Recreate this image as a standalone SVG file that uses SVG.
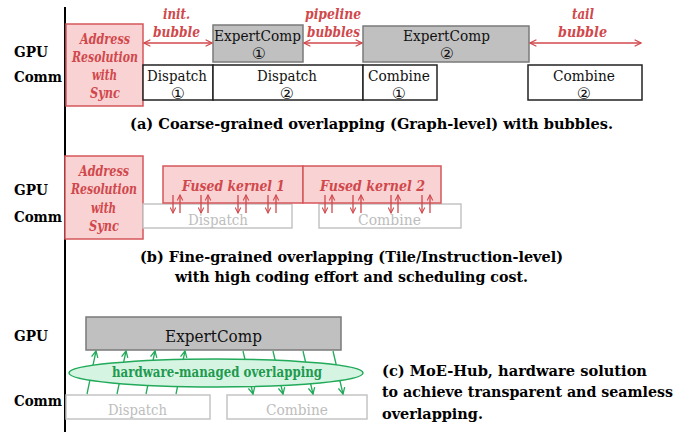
<svg xmlns="http://www.w3.org/2000/svg" width="695" height="432" viewBox="0 0 695 432" font-family="DejaVu Serif, serif">
<defs>
<style>
text{lengthAdjust:spacingAndGlyphs;}
.lbl{font-size:15px;font-weight:bold;fill:#000;}
.cap{font-size:15px;font-weight:bold;fill:#000;}
.red{font-size:14px;font-weight:bold;font-style:italic;fill:#d0484c;}
.fk{font-size:15px;font-weight:bold;font-style:italic;fill:#d0484c;}
.addr{fill:#f9d2d3;stroke:#d5575b;stroke-width:1.5;}
.comp{fill:#c0c0c0;stroke:#7a7a7a;stroke-width:1.5;}
.wbox{fill:#fff;stroke:#222;stroke-width:1.5;}
.gbox{fill:#fff;stroke:#c4c4c4;stroke-width:1.5;}
.t17{font-size:15.5px;fill:#111;}
.gt{font-size:15.5px;fill:#bdbdbd;}
.circ{font-family:"DejaVu Sans",sans-serif;font-size:16px;fill:#111;}
.rarr{stroke:#d0484c;stroke-width:1.3;fill:none;}
.garr{stroke:#22aa5a;stroke-width:1.3;fill:none;}
</style>
<marker id="ra" viewBox="0 0 10 10" refX="9" refY="5" markerWidth="8" markerHeight="8" markerUnits="userSpaceOnUse" orient="auto-start-reverse">
<path d="M1,1 L9,5 L1,9" fill="none" stroke="#d0484c" stroke-width="1.5"/>
</marker>
<marker id="rs" viewBox="0 0 10 10" refX="9" refY="5" markerWidth="7" markerHeight="7" markerUnits="userSpaceOnUse" orient="auto">
<path d="M1,1 L9,5 L1,9" fill="none" stroke="#d0484c" stroke-width="1.5"/>
</marker>
<marker id="ga" viewBox="0 0 10 10" refX="9" refY="5" markerWidth="8" markerHeight="8" markerUnits="userSpaceOnUse" orient="auto">
<path d="M1,1 L9,5 L1,9" fill="none" stroke="#22aa5a" stroke-width="1.6"/>
</marker>
</defs>
<rect width="695" height="432" fill="#fff"/>

<!-- time axis -->
<line x1="65" y1="7" x2="65" y2="432" stroke="#000" stroke-width="2"/>

<!-- row labels -->
<g id="labels">
<text class="lbl" x="14" y="57" textLength="34" lengthAdjust="spacingAndGlyphs">GPU</text>
<text class="lbl" x="14" y="82" textLength="48" lengthAdjust="spacingAndGlyphs">Comm</text>
<text class="lbl" x="14" y="195" textLength="34" lengthAdjust="spacingAndGlyphs">GPU</text>
<text class="lbl" x="14" y="222" textLength="48" lengthAdjust="spacingAndGlyphs">Comm</text>
<text class="lbl" x="14" y="341" textLength="34" lengthAdjust="spacingAndGlyphs">GPU</text>
<text class="lbl" x="14" y="406" textLength="48" lengthAdjust="spacingAndGlyphs">Comm</text>
</g>

<!-- (a) -->
<g id="a-addr">
<rect class="addr" x="66" y="24" width="77" height="82"/>
<text class="red" x="80" y="44" textLength="50" lengthAdjust="spacingAndGlyphs">Address</text>
<text class="red" x="72" y="62" textLength="66" lengthAdjust="spacingAndGlyphs">Resolution</text>
<text class="red" x="92" y="80" textLength="25" lengthAdjust="spacingAndGlyphs">with</text>
<text class="red" x="90" y="98" textLength="30" lengthAdjust="spacingAndGlyphs">Sync</text>
</g>
<g id="a-comp1">
<rect class="comp" x="213" y="25" width="90" height="37"/>
<text class="t17" x="214" y="41" textLength="87" lengthAdjust="spacingAndGlyphs">ExpertComp</text>
<text class="circ" text-anchor="middle" x="259" y="59">①</text>
</g>
<g id="a-comp2">
<rect class="comp" x="363" y="26" width="166" height="36"/>
<text class="t17" x="403" y="41" textLength="87" lengthAdjust="spacingAndGlyphs">ExpertComp</text>
<text class="circ" text-anchor="middle" x="447" y="59">②</text>
</g>
<g id="a-disp1">
<rect class="wbox" x="143" y="65" width="70" height="35"/>
<text class="t17" x="147" y="81" textLength="60" lengthAdjust="spacingAndGlyphs">Dispatch</text>
<text class="circ" text-anchor="middle" x="178" y="99">①</text>
</g>
<g id="a-disp2">
<rect class="wbox" x="213" y="65" width="150" height="35"/>
<text class="t17" x="257" y="81" textLength="60" lengthAdjust="spacingAndGlyphs">Dispatch</text>
<text class="circ" text-anchor="middle" x="287" y="99">②</text>
</g>
<g id="a-comb1">
<rect class="wbox" x="363" y="65" width="74" height="35"/>
<text class="t17" x="368" y="81" textLength="62" lengthAdjust="spacingAndGlyphs">Combine</text>
<text class="circ" text-anchor="middle" x="399" y="99">①</text>
</g>
<g id="a-comb2">
<rect class="wbox" x="528" y="65" width="114" height="35"/>
<text class="t17" x="553" y="81" textLength="62" lengthAdjust="spacingAndGlyphs">Combine</text>
<text class="circ" text-anchor="middle" x="584" y="99">②</text>
</g>
<g id="a-bubble-labels">
<text class="red" x="163" y="19" textLength="27" lengthAdjust="spacingAndGlyphs">init.</text>
<text class="red" x="153" y="37" textLength="47" lengthAdjust="spacingAndGlyphs">bubble</text>
<text class="red" x="305" y="19" textLength="56" lengthAdjust="spacingAndGlyphs">pipeline</text>
<text class="red" x="307" y="37" textLength="53" lengthAdjust="spacingAndGlyphs">bubbles</text>
<text class="red" x="572" y="19" textLength="22" lengthAdjust="spacingAndGlyphs">tail</text>
<text class="red" x="558" y="37" textLength="49" lengthAdjust="spacingAndGlyphs">bubble</text>
</g>
<text class="cap" x="130" y="129" textLength="483" lengthAdjust="spacingAndGlyphs">(a) Coarse-grained overlapping (Graph-level) with bubbles.</text>

<!-- (b) -->
<g id="b-addr">
<rect class="addr" x="65" y="156" width="78" height="83"/>
<text class="red" x="79" y="176" textLength="50" lengthAdjust="spacingAndGlyphs">Address</text>
<text class="red" x="71" y="194" textLength="66" lengthAdjust="spacingAndGlyphs">Resolution</text>
<text class="red" x="91" y="213" textLength="25" lengthAdjust="spacingAndGlyphs">with</text>
<text class="red" x="89" y="231" textLength="30" lengthAdjust="spacingAndGlyphs">Sync</text>
</g>
<g id="b-disp">
<rect class="gbox" x="143" y="204" width="149" height="24"/>
<text class="gt" x="188" y="225" textLength="60" lengthAdjust="spacingAndGlyphs">Dispatch</text>
</g>
<g id="b-comb">
<rect class="gbox" x="319" y="204" width="142" height="24"/>
<text class="gt" x="358" y="225" textLength="63" lengthAdjust="spacingAndGlyphs">Combine</text>
</g>
<g id="b-fk1">
<rect class="addr" x="163" y="166" width="140" height="37"/>
<text class="fk" x="182" y="191" textLength="103" lengthAdjust="spacingAndGlyphs">Fused kernel 1</text>
</g>
<g id="b-fk2">
<rect class="addr" x="303" y="166" width="138" height="37"/>
<text class="fk" x="320" y="191" textLength="105" lengthAdjust="spacingAndGlyphs">Fused kernel 2</text>
</g>
<text class="cap" x="140" y="262" textLength="423" lengthAdjust="spacingAndGlyphs">(b) Fine-grained overlapping (Tile/Instruction-level)</text>
<text class="cap" x="175" y="282" textLength="353" lengthAdjust="spacingAndGlyphs">with high coding effort and scheduling cost.</text>

<!-- (c) -->
<g id="c-comp">
<rect class="comp" x="86" y="317" width="255" height="33"/>
<text font-size="17.5" fill="#111" x="165" y="342" textLength="97" lengthAdjust="spacingAndGlyphs">ExpertComp</text>
</g>
<g id="c-disp">
<rect class="gbox" x="66" y="395" width="144" height="24"/>
<text class="gt" x="108" y="415" textLength="59" lengthAdjust="spacingAndGlyphs">Dispatch</text>
</g>
<g id="c-comb">
<rect class="gbox" x="227" y="395" width="140" height="24"/>
<text class="gt" x="266" y="415" textLength="62" lengthAdjust="spacingAndGlyphs">Combine</text>
</g>
<text class="cap" x="382" y="376" textLength="265" lengthAdjust="spacingAndGlyphs">(c) MoE-Hub, hardware solution</text>
<text class="cap" x="382" y="397" textLength="291" lengthAdjust="spacingAndGlyphs">to achieve transparent and seamless</text>
<text class="cap" x="382" y="419" textLength="101" lengthAdjust="spacingAndGlyphs">overlapping.</text>

<!-- connectors -->
<g id="connectors">
<line class="rarr" x1="144" y1="43" x2="212" y2="43" marker-start="url(#ra)" marker-end="url(#ra)"/>
<line class="rarr" x1="304" y1="43" x2="362" y2="43" marker-start="url(#ra)" marker-end="url(#ra)"/>
<line class="rarr" x1="530" y1="43" x2="641" y2="43" marker-start="url(#ra)" marker-end="url(#ra)"/>

<g class="rarr">
<line x1="173" y1="195" x2="173" y2="213" marker-end="url(#rs)"/><line x1="180" y1="213" x2="180" y2="195" marker-end="url(#rs)"/>
<line x1="201" y1="195" x2="201" y2="213" marker-end="url(#rs)"/><line x1="208" y1="213" x2="208" y2="195" marker-end="url(#rs)"/>
<line x1="238" y1="195" x2="238" y2="213" marker-end="url(#rs)"/><line x1="246" y1="213" x2="246" y2="195" marker-end="url(#rs)"/>
<line x1="268" y1="195" x2="268" y2="213" marker-end="url(#rs)"/><line x1="276" y1="213" x2="276" y2="195" marker-end="url(#rs)"/>
<line x1="325" y1="195" x2="325" y2="213" marker-end="url(#rs)"/><line x1="332" y1="213" x2="332" y2="195" marker-end="url(#rs)"/>
<line x1="353" y1="195" x2="353" y2="213" marker-end="url(#rs)"/><line x1="361" y1="213" x2="361" y2="195" marker-end="url(#rs)"/>
<line x1="391" y1="195" x2="391" y2="213" marker-end="url(#rs)"/><line x1="398" y1="213" x2="398" y2="195" marker-end="url(#rs)"/>
<line x1="422" y1="195" x2="422" y2="213" marker-end="url(#rs)"/><line x1="430" y1="213" x2="430" y2="195" marker-end="url(#rs)"/>
</g>

<g class="garr">
<line x1="87" y1="394" x2="96" y2="351" marker-end="url(#ga)"/>
<line x1="117" y1="394" x2="126" y2="351" marker-end="url(#ga)"/>
<line x1="146" y1="394" x2="155" y2="351" marker-end="url(#ga)"/>
<line x1="176" y1="394" x2="185" y2="351" marker-end="url(#ga)"/>
<line x1="243" y1="351" x2="253" y2="394" marker-end="url(#ga)"/>
<line x1="273" y1="351" x2="283" y2="394" marker-end="url(#ga)"/>
<line x1="303" y1="351" x2="313" y2="394" marker-end="url(#ga)"/>
<line x1="333" y1="351" x2="343" y2="394" marker-end="url(#ga)"/>
</g>
</g>

<g id="c-hw">
<ellipse cx="216" cy="373" rx="147" ry="14" fill="#d5f4e2" stroke="#22aa5a" stroke-width="1.5"/>
<text font-size="14" font-weight="bold" fill="#1f9a50" x="112" y="377" textLength="210" lengthAdjust="spacingAndGlyphs">hardware-managed overlapping</text>
</g>
</svg>
